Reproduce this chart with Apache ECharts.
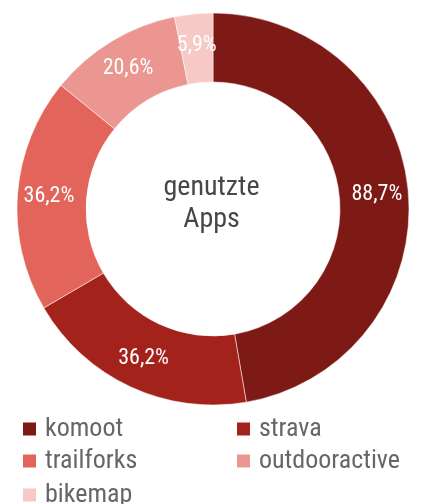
<!DOCTYPE html>
<html>
<head>
<meta charset="utf-8">
<script src="https://cdn.jsdelivr.net/npm/echarts@6/dist/echarts.min.js"></script>
<style>
  html, body { margin: 0; padding: 0; background: #fff; }
  .demo { width: 423px; height: 504px; }
</style>
</head>
<body>
<div class="demo"></div>
<script>
const apps = ['komoot', 'strava', 'trailforks', 'outdooractive', 'bikemap']
const shares = [88.7, 36.2, 36.2, 20.6, 5.9]
const colors = ['#7d1a15', '#a4221c', '#e3645a', '#eb9690', '#f6c9c6']
const centerText = 'genutzte\nApps'

;(function(){
  const font = "'Roboto Condensed', 'Liberation Sans Narrow', Roboto, sans-serif"
  const chartinstance = echarts.init(document.querySelector('.demo'))
  // legend grid: two columns, rows of ~32.5px
  const legendPos = [[21, 416], [235, 416], [21, 448], [235, 448], [21, 482]]
  const legends = apps.map((name, i) => ({
    data: [name],
    left: legendPos[i][0],
    top: legendPos[i][1],
    itemWidth: 15,
    itemHeight: 15,
    icon: 'rect',
    padding: 0,
    selectedMode: false,
    textStyle: { color: '#666', fontSize: 26, fontFamily: font, padding: [0, 0, 0, 3] }
  }))
  const option = {
    color: colors,
    animation: false,
    legend: legends,
    title: {
      text: centerText,
      left: 'center',
      top: 167,
      textStyle: { color: '#474747', fontSize: 28, fontWeight: 'normal', fontFamily: font, lineHeight: 32 }
    },
    series: [
      {
        type: 'pie',
        center: [213, 209],
        radius: [127, 196],
        startAngle: 90,
        clockwise: true,
        itemStyle: { borderColor: '#fff', borderWidth: 0.5 },
        label: {
          position: 'inside',
          color: '#fff',
          fontSize: 22,
          fontFamily: font,
          formatter: p => p.value.toFixed(1).replace('.', ',') + '%'
        },
        labelLine: { show: false },
        emphasis: { disabled: true },
        data: apps.map((name, i) => ({ name: name, value: shares[i] }))
      }
    ]
  }
  option && chartinstance.setOption(option)
  window.addEventListener('resize',()=>{
    chartinstance.resize();
  })
})();
</script>
</body>
</html>
